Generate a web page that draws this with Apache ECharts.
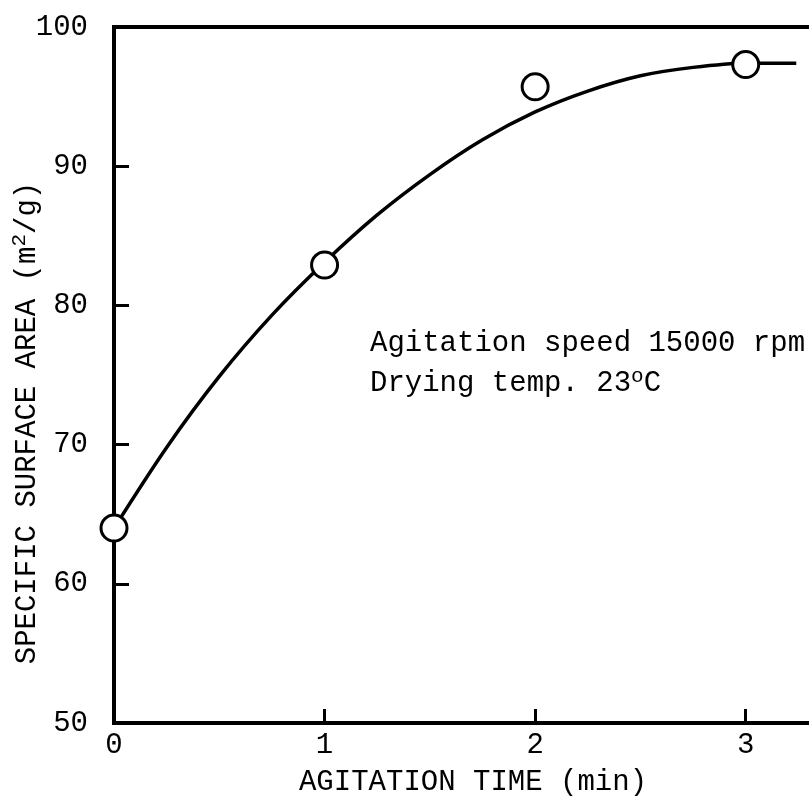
<!DOCTYPE html>
<html>
<head>
<meta charset="utf-8">
<script src="https://cdn.jsdelivr.net/npm/echarts@6/dist/echarts.min.js"></script>
<style>
  html, body { margin: 0; padding: 0; background: #fff; }
  #chart { width: 809px; height: 797px; }
</style>
</head>
<body>
<div id="chart"></div>
<script>
// measured points (agitation time in min, surface area in m2/g)
const pointTimes = [0, 1, 2, 3]
const pointAreas = [64.0, 82.9, 95.7, 97.3]

// hand-drawn fitted curve
const curveTimes = [0, 0.25, 0.5, 0.75, 1, 1.25, 1.5, 1.75, 2, 2.25, 2.5, 2.75, 3, 3.24]
const curveAreas = [64.0, 69.8, 74.9, 79.3, 83.1, 86.5, 89.4, 91.9, 93.9, 95.4, 96.5, 97.1, 97.4, 97.4]

const yTicks = [50, 60, 70, 80, 90, 100]
const xTicks = [0, 1, 2, 3]

const FONT = '"Liberation Mono", "DejaVu Sans Mono", monospace'

let chart = echarts.init(document.getElementById('chart'))

let option = {
  backgroundColor: '#fff',
  animation: false,
  grid: {
    left: 114,
    top: 27,
    height: 696,
    width: 737, // runs past the right edge, the original scan is cut there
    outerBoundsMode: 'none',
    containLabel: false,
    show: true,
    borderColor: '#000',
    borderWidth: 4
  },
  xAxis: {
    type: 'value',
    min: 0,
    max: 3.5,
    interval: 1,
    splitLine: { show: false },
    axisLine: { show: true, lineStyle: { color: '#000', width: 4 } },
    axisTick: { show: true, inside: true, length: 14, lineStyle: { color: '#000', width: 3 } },
    axisLabel: {
      margin: 8,
      color: '#000',
      fontFamily: FONT,
      fontSize: 29,
      formatter: function (v) {
        return xTicks.indexOf(v) >= 0 ? String(v) : ''
      }
    }
  },
  yAxis: {
    type: 'value',
    min: 50,
    max: 100,
    interval: 10,
    splitLine: { show: false },
    axisLine: { show: true, lineStyle: { color: '#000', width: 4 } },
    axisTick: { show: true, inside: true, length: 15, lineStyle: { color: '#000', width: 3 } },
    axisLabel: {
      margin: 26,
      color: '#000',
      fontFamily: FONT,
      fontSize: 29,
      padding: [0, 0, 8, 0],
      formatter: function (v) {
        return yTicks.indexOf(v) >= 0 ? String(v) : ''
      }
    }
  },
  series: [
    {
      type: 'line',
      data: curveTimes.map((t, i) => [t, curveAreas[i]]),
      smooth: 0.3,
      showSymbol: false,
      lineStyle: { color: '#000', width: 3.5 },
      z: 2
    },
    {
      type: 'scatter',
      data: pointTimes.map((t, i) => [t, pointAreas[i]]),
      symbol: 'circle',
      symbolSize: 26,
      itemStyle: { color: '#fff', borderColor: '#000', borderWidth: 3, opacity: 1 },
      z: 3
    }
  ],
  graphic: [
    {
      type: 'text',
      x: 27,
      y: 423,
      rotation: Math.PI / 2,
      style: {
        text: 'SPECIFIC SURFACE AREA (m{sup|2}/g)',
        font: '29px ' + FONT,
        fill: '#000',
        align: 'center',
        verticalAlign: 'middle',
        rich: {
          sup: { font: '21px ' + FONT, fill: '#000', padding: [0, 0, 16, 0] }
        }
      }
    },
    {
      type: 'text',
      x: 473,
      y: 782,
      style: {
        text: 'AGITATION TIME (min)',
        font: '29px ' + FONT,
        fill: '#000',
        align: 'center',
        verticalAlign: 'middle'
      }
    },
    {
      type: 'text',
      x: 370,
      y: 343,
      style: {
        text: 'Agitation speed 15000 rpm',
        font: '29px ' + FONT,
        fill: '#000',
        align: 'left',
        verticalAlign: 'middle'
      }
    },
    {
      type: 'text',
      x: 370,
      y: 383,
      style: {
        text: 'Drying temp. 23{sup|o}C',
        font: '29px ' + FONT,
        fill: '#000',
        align: 'left',
        verticalAlign: 'middle',
        rich: {
          sup: { font: '21px ' + FONT, fill: '#000', padding: [0, 0, 14, 0] }
        }
      }
    }
  ]
}

chart.setOption(option)
</script>
</body>
</html>
